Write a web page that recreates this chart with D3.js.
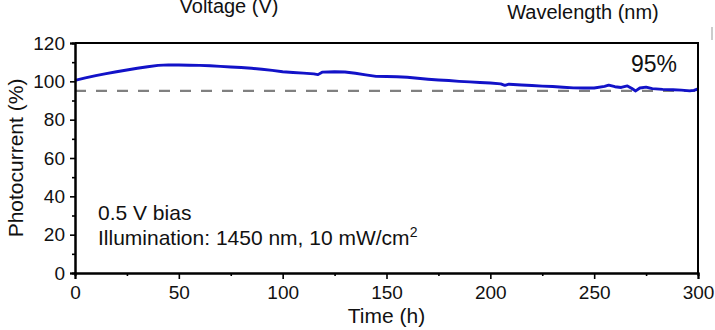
<!DOCTYPE html>
<html><head><meta charset="utf-8">
<script src="https://cdn.jsdelivr.net/npm/d3@7"></script>
<style>
body{margin:0;background:#fff}
svg text{font-family:"Liberation Sans",Arial,Helvetica,sans-serif;fill:#111}
</style>
</head><body>
<svg id="chart" width="715" height="330"></svg>
<script>
// ---- data ----
const times = [0,5,10,15,20,25,30,35,40,45,50,55,60,65,70,75,80,85,90,95,100,105,110,115,117,119,125,130,135,140,145,150,155,160,165,170,175,180,185,190,195,200,205,207,209,215,220,225,230,235,240,245,250,255,257,260,263,266,268,270,272,275,278,283,288,292,296,298,300];
const photocurrent = [100.5,101.8,103.0,104.0,105.0,105.9,106.8,107.6,108.3,108.6,108.5,108.4,108.3,108.1,107.8,107.5,107.2,106.8,106.3,105.7,105.0,104.6,104.3,103.9,103.5,104.8,105.0,104.9,104.2,103.4,102.6,102.5,102.4,102.1,101.6,101.1,100.7,100.4,100.0,99.7,99.4,99.1,98.7,97.9,98.5,98.1,97.8,97.5,97.3,96.9,96.6,96.5,96.5,97.4,98.0,97.2,96.8,97.6,96.4,95.0,96.5,97.0,96.2,95.8,95.6,95.4,95.0,95.3,96.0];
const xTicks = [0,50,100,150,200,250,300];
const xMinorTicks = [25,75,125,175,225,275];
const yTicks = [0,20,40,60,80,100,120];
const yMinorTicks = [10,30,50,70,90,110];
const referenceLevel = 95;
const referenceLabel = "95%";
const xLabel = "Time (h)";
const yLabel = "Photocurrent (%)";
const noteLine1 = "0.5 V bias";
const noteLine2 = "Illumination: 1450 nm, 10 mW/cm";
const noteSup = "2";
const topLabels = ["Voltage (V)", "Wavelength (nm)"];

// ---- layout ----
const W = 715, H = 330;
const m = {left: 75, right: 17, top: 43, bottom: 57};
const svg = d3.select("#chart");
const x = d3.scaleLinear().domain([0,300]).range([m.left, W - m.right]);
const y = d3.scaleLinear().domain([0,120]).range([H - m.bottom, m.top]);

// top cropped labels from neighbouring panels
svg.append("text").attr("x", 229).attr("y", 13).attr("text-anchor","middle")
  .style("font-size","20px").text(topLabels[0]);
svg.append("text").attr("x", 583).attr("y", 19).attr("text-anchor","middle")
  .style("font-size","20px").text(topLabels[1]);
svg.append("rect").attr("x", 711).attr("y", 27).attr("width", 2).attr("height", 13).attr("fill", "#ccc");

// reference dashed line
svg.append("line")
  .attr("x1", x(0)).attr("x2", x(300))
  .attr("y1", y(referenceLevel)).attr("y2", y(referenceLevel))
  .attr("stroke", "#808080").attr("stroke-width", 2.2).attr("stroke-dasharray", "11,10");

// data line
const line = d3.line().x((d,i)=>x(times[i])).y(d=>y(d));
svg.append("path").datum(photocurrent)
  .attr("d", line).attr("fill","none")
  .attr("stroke","#1212c8").attr("stroke-width",2.9).attr("stroke-linejoin","round");

// frame (top + right)
svg.append("path")
  .attr("d", `M${x(0)},${y(120)}H${x(300)}V${y(0)}`)
  .attr("fill","none").attr("stroke","#000").attr("stroke-width",2);

// axes
const xAxis = svg.append("g").attr("transform",`translate(0,${y(0)})`)
  .call(d3.axisBottom(x).tickValues(xTicks).tickSize(6).tickPadding(7).tickFormat(d3.format("d")));
const xMinor = svg.append("g").attr("transform",`translate(0,${y(0)})`)
  .call(d3.axisBottom(x).tickValues(xMinorTicks).tickSize(3).tickFormat(""));
const yAxis = svg.append("g").attr("transform",`translate(${x(0)},0)`)
  .call(d3.axisLeft(y).tickValues(yTicks).tickSize(5).tickPadding(5).tickFormat(d3.format("d")));
const yMinor = svg.append("g").attr("transform",`translate(${x(0)},0)`)
  .call(d3.axisLeft(y).tickValues(yMinorTicks).tickSize(3).tickFormat(""));
[xAxis,xMinor,yAxis,yMinor].forEach(g=>{
  g.select(".domain").attr("stroke","#000").attr("stroke-width",2);
  g.selectAll(".tick line").attr("stroke","#000").attr("stroke-width",1.6);
  g.selectAll(".tick text").style("font-size","19px").attr("fill","#111")
    .style("font-family","'Liberation Sans',Arial,sans-serif");
});

// axis titles
svg.append("text").attr("x", x(150)).attr("y", 323).attr("text-anchor","middle")
  .style("font-size","21px").text(xLabel);
svg.append("text").attr("transform",`translate(23,${(y(0)+y(120))/2}) rotate(-90)`)
  .attr("text-anchor","middle").style("font-size","21px").text(yLabel);

// annotations
svg.append("text").attr("x", 98).attr("y", 220).style("font-size","21px").text(noteLine1);
const t2 = svg.append("text").attr("x", 98).attr("y", 245).style("font-size","21px");
t2.append("tspan").text(noteLine2);
t2.append("tspan").attr("dy", -8).style("font-size","14px").text(noteSup);
svg.append("text").attr("x", 654).attr("y", 72).attr("text-anchor","middle")
  .style("font-size","23px").text(referenceLabel);
</script>
</body></html>
